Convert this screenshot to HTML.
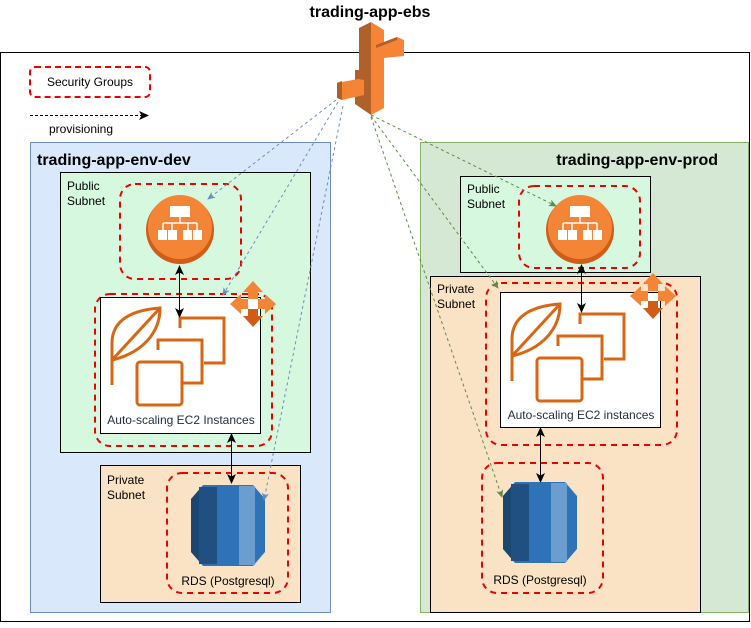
<!DOCTYPE html>
<html><head><meta charset="utf-8"><style>
body{margin:0;background:#fff;}
svg text{font-family:"Liberation Sans",sans-serif;}
</style></head><body>
<svg width="751" height="623" viewBox="0 0 751 623" xmlns="http://www.w3.org/2000/svg">
<defs>
<marker id="ab" markerWidth="8" markerHeight="8" refX="7" refY="4" orient="auto" markerUnits="userSpaceOnUse"><path d="M0,0.5 L8,4 L0,7.5 L2,4z" fill="#6c8ebf"/></marker>
<marker id="ag" markerWidth="8" markerHeight="8" refX="7" refY="4" orient="auto" markerUnits="userSpaceOnUse"><path d="M0,0.5 L8,4 L0,7.5 L2,4z" fill="#5f8a4a"/></marker>
<marker id="ak" markerWidth="10" markerHeight="10" refX="9" refY="5" orient="auto-start-reverse" markerUnits="userSpaceOnUse"><path d="M0,0.5 L10,5 L0,9.5 L2.5,5z" fill="#000"/></marker>
<g id="elb">
<circle cx="0" cy="0" r="34" fill="#d05c17"/>
<circle cx="0" cy="-3" r="32" fill="#f58536"/>
<rect x="-10" y="-24" width="20" height="11" fill="#fff"/>
<path d="M0,-13 V-7 M-17,-7 H17 M-17,-7 V0 M-8,-7 V0 M8,-7 V0 M17,-7 V0" stroke="#fff" stroke-width="1.5" fill="none"/>
<rect x="-22" y="0" width="9" height="10" fill="#fff"/><rect x="-12" y="0" width="9" height="10" fill="#fff"/>
<rect x="3" y="0" width="9" height="10" fill="#fff"/><rect x="13" y="0" width="9" height="10" fill="#fff"/>
</g>
<g id="ec2" fill="none" stroke="#d86613" stroke-width="3">
<path d="M0,77 V35 C0,12 20,2 48,0 C48,25 30,45 0,52"/>
<path d="M0,52 L48,0"/>
<path d="M68,20 V10 H112 V55 H92"/>
<path d="M46,42 V32 H90 V75 H70"/>
<rect x="25" y="54" width="45" height="43" rx="3"/>
</g>
<g id="scale">
<polygon points="0,-23 10,-12 5,-12 5,-5 -5,-5 -5,-12 -10,-12" fill="#f58536"/>
<polygon points="0,23 10,12 5,12 5,5 -5,5 -5,12 -10,12" fill="#d05c17"/>
<polygon points="-23,0 -12,-10 -12,-5 -5,-5 -5,5 -12,5 -12,10" fill="#f58536"/>
<polygon points="23,0 12,-10 12,-5 5,-5 5,5 12,5 12,10" fill="#f58536"/>
</g>
<g id="rds">
<polygon points="0,14 12,0 62,0 74,14 74,67 62,81 12,81 0,67" fill="#2e73b8"/>
<polygon points="0,14 8,5 8,76 0,67" fill="#1a476f"/>
<rect x="8" y="2" width="18" height="77" fill="#205081"/>
<rect x="48" y="1" width="16" height="79" fill="#6b9dcf"/>
</g>
</defs>

<rect x="0.5" y="52.5" width="749" height="569" fill="#fff" stroke="#000"/>
<text x="370" y="17" font-size="16" font-weight="bold" text-anchor="middle">trading-app-ebs</text>

<rect x="30" y="67" width="120" height="30" rx="5" fill="none" stroke="#e00" stroke-width="2" stroke-dasharray="6,4"/>
<text x="90" y="86" font-size="12" text-anchor="middle">Security Groups</text>
<line x1="30" y1="115.5" x2="148" y2="115.5" stroke="#000" stroke-dasharray="3,2" marker-end="url(#ak)"/>
<text x="81" y="133" font-size="12" text-anchor="middle">provisioning</text>

<!-- dev -->
<rect x="30.5" y="142.5" width="300" height="470" fill="#dae8fc" stroke="#6c8ebf"/>
<text x="37" y="165" font-size="16" font-weight="bold">trading-app-env-dev</text>
<rect x="60.5" y="172.5" width="250" height="280" fill="#d5f8df" stroke="#000"/>
<text x="67" y="190" font-size="12">Public</text><text x="67" y="205" font-size="12">Subnet</text>
<rect x="120" y="184" width="121" height="95" rx="15" fill="none" stroke="#e00" stroke-width="2" stroke-dasharray="6,5"/>
<use href="#elb" x="180" y="230"/>
<rect x="95" y="294" width="177" height="152" rx="15" fill="none" stroke="#e00" stroke-width="2" stroke-dasharray="6,5"/>
<rect x="100.5" y="297.5" width="160" height="136" fill="#fff" stroke="#000"/>
<use href="#ec2" x="112" y="308"/>
<text x="181" y="424" font-size="12" text-anchor="middle" fill="#232f3e">Auto-scaling EC2 Instances</text>
<use href="#scale" x="253" y="304"/>
<line x1="179.5" y1="266" x2="179.5" y2="317" stroke="#000" marker-start="url(#ak)" marker-end="url(#ak)"/>
<rect x="100.5" y="465.5" width="200" height="137" fill="#fae3c5" stroke="#000"/>
<text x="107" y="484" font-size="12">Private</text><text x="107" y="499" font-size="12">Subnet</text>
<rect x="167" y="473" width="121" height="120" rx="15" fill="none" stroke="#e00" stroke-width="2" stroke-dasharray="6,5"/>
<use href="#rds" x="191" y="485"/>
<text x="228" y="585" font-size="12" text-anchor="middle">RDS (Postgresql)</text>
<line x1="231.5" y1="434" x2="231.5" y2="483" stroke="#000" marker-start="url(#ak)" marker-end="url(#ak)"/>

<!-- prod -->
<rect x="420.5" y="142.5" width="328" height="470" fill="#d5e8d4" stroke="#82b366"/>
<text x="718" y="165" font-size="16" font-weight="bold" text-anchor="end">trading-app-env-prod</text>
<rect x="460.5" y="176.5" width="190" height="96" fill="#d5f8df" stroke="#000"/>
<text x="467" y="193" font-size="12">Public</text><text x="467" y="208" font-size="12">Subnet</text>
<rect x="519" y="186" width="121" height="82" rx="15" fill="none" stroke="#e00" stroke-width="2" stroke-dasharray="6,5"/>
<use href="#elb" x="580" y="230"/>
<rect x="430.5" y="276.5" width="270" height="336" fill="#fae3c5" stroke="#000"/>
<text x="437" y="293" font-size="12">Private</text><text x="437" y="308" font-size="12">Subnet</text>
<rect x="486" y="283" width="191" height="162" rx="15" fill="none" stroke="#e00" stroke-width="2" stroke-dasharray="6,5"/>
<rect x="500.5" y="292.5" width="160" height="135" fill="#fff" stroke="#000"/>
<use href="#ec2" x="512" y="304"/>
<text x="581" y="419" font-size="12" text-anchor="middle" fill="#232f3e">Auto-scaling EC2 instances</text>
<use href="#scale" x="653" y="296"/>
<line x1="581.5" y1="265" x2="581.5" y2="312" stroke="#000" marker-start="url(#ak)" marker-end="url(#ak)"/>
<line x1="540.5" y1="428" x2="540.5" y2="482" stroke="#000" marker-start="url(#ak)" marker-end="url(#ak)"/>
<rect x="482" y="463" width="121" height="130" rx="15" fill="none" stroke="#e00" stroke-width="2" stroke-dasharray="6,5"/>
<use href="#rds" x="503" y="482"/>
<text x="540" y="584" font-size="12" text-anchor="middle">RDS (Postgresql)</text>

<!-- EBS icon -->
<polygon points="359,28 371,22 371,115 355,104 355,70 359,70" fill="#b0612a"/>
<polygon points="371,22 384,30 384,108 371,115" fill="#f58534"/>
<polygon points="376,45 397,37 404,40 404,56 384,58 376,56" fill="#f58534"/>
<polygon points="376,45 397,37 397,40 376,48" fill="#b0612a"/>
<polygon points="337,83 342,100 364,95 364,80 358,79" fill="#f58534"/>
<polygon points="337,83 342,81 342,100 337,98" fill="#b0612a"/>

<g fill="none" stroke-width="1" stroke-dasharray="3,3">
<line x1="336" y1="100" x2="208" y2="199" stroke="#6c8ebf" marker-end="url(#ab)"/>
<line x1="338" y1="102" x2="223" y2="295" stroke="#6c8ebf" marker-end="url(#ab)"/>
<line x1="343" y1="106" x2="264" y2="500" stroke="#6c8ebf" marker-end="url(#ab)"/>
<line x1="371" y1="115" x2="556" y2="206" stroke="#5f8a4a" marker-end="url(#ag)"/>
<line x1="371" y1="116" x2="498" y2="288" stroke="#5f8a4a" marker-end="url(#ag)"/>
<line x1="371" y1="117" x2="502" y2="497" stroke="#5f8a4a" marker-end="url(#ag)"/>
</g>
</svg>
</body></html>
